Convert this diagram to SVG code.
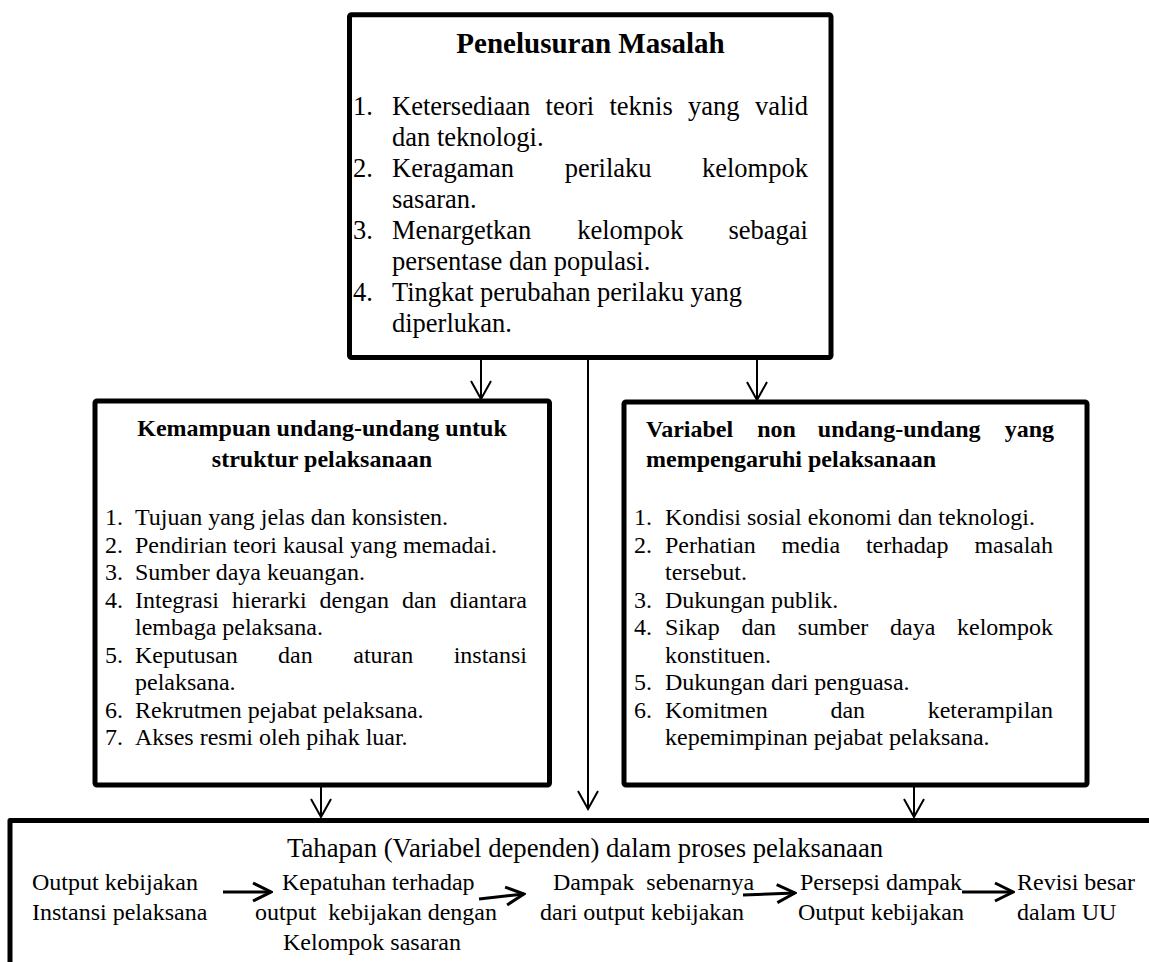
<svg xmlns="http://www.w3.org/2000/svg" width="1149" height="962" viewBox="0 0 1149 962">
<defs>
<style>
.box{fill:#fff;stroke:#000;stroke-width:5;stroke-linejoin:round}
text{font-family:"Liberation Serif","Times New Roman",serif;fill:#000}
.t1{font-size:26.5px}
.h1{font-size:29px;font-weight:bold}
.t2{font-size:24px}
.h2{font-size:24px;font-weight:bold}
.hb{font-size:26.7px}
.conn{stroke:#000;stroke-width:2;fill:none}
.conn2{stroke:#000;stroke-width:3;fill:none}
</style>
<marker id="ah" markerUnits="userSpaceOnUse" viewBox="-22 -13 24 26" refX="0" refY="0" markerWidth="24" markerHeight="26" orient="auto">
<path d="M-18,-10 L0,0 L-18,10" fill="none" stroke="#000" stroke-width="2"/>
</marker>
<marker id="ah2" markerUnits="userSpaceOnUse" viewBox="-22 -13 24 26" refX="0" refY="0" markerWidth="24" markerHeight="26" orient="auto">
<path d="M-18,-9 L0,0 L-18,9" fill="none" stroke="#000" stroke-width="3"/>
</marker>
</defs>
<rect width="1149" height="962" fill="#fff"/>

<g id="penelusuran">
<rect class="box" x="349.5" y="14.7" width="481.5" height="342.8" rx="2"/>
<text class="h1" x="590.5" y="53" text-anchor="middle">Penelusuran Masalah</text>
<text class="t1" y="115"><tspan x="353">1.</tspan> <tspan x="392">Ketersediaan</tspan> <tspan x="545.6">teori</tspan> <tspan x="609.5">teknis</tspan> <tspan x="688.1">yang</tspan> <tspan x="755">valid</tspan></text>
<text class="t1" x="392" y="146">dan teknologi.</text>
<text class="t1" y="177"><tspan x="353">2.</tspan> <tspan x="392">Keragaman</tspan> <tspan x="564.7">perilaku</tspan> <tspan x="702">kelompok</tspan></text>
<text class="t1" x="392" y="208">sasaran.</text>
<text class="t1" y="239"><tspan x="353">3.</tspan> <tspan x="392">Menargetkan</tspan> <tspan x="577.2">kelompok</tspan> <tspan x="728.5">sebagai</tspan></text>
<text class="t1" x="392" y="270">persentase dan populasi.</text>
<text class="t1" y="301"><tspan x="353">4.</tspan> <tspan x="392">Tingkat perubahan perilaku yang</tspan></text>
<text class="t1" x="392" y="332">diperlukan.</text>
</g>

<g id="kemampuan">
<rect class="box" x="95" y="401" width="454.5" height="384" rx="2"/>
<text class="h2" x="322" y="436" text-anchor="middle">Kemampuan undang-undang untuk</text>
<text class="h2" x="322" y="467" text-anchor="middle">struktur pelaksanaan</text>
<text class="t2" y="525"><tspan x="105">1.</tspan> <tspan x="135">Tujuan yang jelas dan konsisten.</tspan></text>
<text class="t2" y="552.5"><tspan x="105">2.</tspan> <tspan x="135">Pendirian teori kausal yang memadai.</tspan></text>
<text class="t2" y="580"><tspan x="105">3.</tspan> <tspan x="135">Sumber daya keuangan.</tspan></text>
<text class="t2" y="607.5"><tspan x="105">4.</tspan> <tspan x="135">Integrasi</tspan> <tspan x="232">hierarki</tspan> <tspan x="319.6">dengan</tspan> <tspan x="401.9">dan</tspan> <tspan x="449.7">diantara</tspan></text>
<text class="t2" x="135" y="635">lembaga pelaksana.</text>
<text class="t2" y="662.5"><tspan x="105">5.</tspan> <tspan x="135">Keputusan</tspan> <tspan x="278.1">dan</tspan> <tspan x="353.3">aturan</tspan> <tspan x="453.7">instansi</tspan></text>
<text class="t2" x="135" y="690">pelaksana.</text>
<text class="t2" y="717.5"><tspan x="105">6.</tspan> <tspan x="135">Rekrutmen pejabat pelaksana.</tspan></text>
<text class="t2" y="745"><tspan x="105">7.</tspan> <tspan x="135">Akses resmi oleh pihak luar.</tspan></text>
</g>

<g id="variabel-non">
<rect class="box" x="624" y="402" width="463" height="383" rx="2"/>
<text class="h2" y="437"><tspan x="646">Variabel</tspan> <tspan x="757.2">non</tspan> <tspan x="817.8">undang-undang</tspan> <tspan x="1004.7">yang</tspan></text>
<text class="h2" x="646" y="467">mempengaruhi pelaksanaan</text>
<text class="t2" y="525"><tspan x="634">1.</tspan> <tspan x="665">Kondisi sosial ekonomi dan teknologi.</tspan></text>
<text class="t2" y="552.5"><tspan x="634">2.</tspan> <tspan x="665">Perhatian</tspan> <tspan x="781.4">media</tspan> <tspan x="865.9">terhadap</tspan> <tspan x="974.4">masalah</tspan></text>
<text class="t2" x="665" y="580">tersebut.</text>
<text class="t2" y="607.5"><tspan x="634">3.</tspan> <tspan x="665">Dukungan publik.</tspan></text>
<text class="t2" y="635"><tspan x="634">4.</tspan> <tspan x="665">Sikap</tspan> <tspan x="741.4">dan</tspan> <tspan x="797.7">sumber</tspan> <tspan x="890">daya</tspan> <tspan x="957">kelompok</tspan></text>
<text class="t2" x="665" y="662.5">konstituen.</text>
<text class="t2" y="690"><tspan x="634">5.</tspan> <tspan x="665">Dukungan dari penguasa.</tspan></text>
<text class="t2" y="717.5"><tspan x="634">6.</tspan> <tspan x="665">Komitmen</tspan> <tspan x="830.4">dan</tspan> <tspan x="927.7">keterampilan</tspan></text>
<text class="t2" x="665" y="745">kepemimpinan pejabat pelaksana.</text>
</g>

<g id="tahapan">
<rect class="box" x="10" y="820.5" width="1200" height="200"/>
<text class="hb" x="287" y="857">Tahapan (Variabel dependen) dalam proses pelaksanaan</text>
<text class="t2" x="32" y="890">Output kebijakan</text>
<text class="t2" x="32" y="920">Instansi pelaksana</text>
<text class="t2" x="282" y="890">Kepatuhan terhadap</text>
<text class="t2" x="255" y="920" xml:space="preserve">output  kebijakan dengan</text>
<text class="t2" x="283" y="950">Kelompok sasaran</text>
<text class="t2" x="553" y="890" xml:space="preserve">Dampak  sebenarnya</text>
<text class="t2" x="540" y="920">dari output kebijakan</text>
<text class="t2" x="800" y="890">Persepsi dampak</text>
<text class="t2" x="798" y="920">Output kebijakan</text>
<text class="t2" x="1017" y="890">Revisi besar</text>
<text class="t2" x="1017" y="920">dalam UU</text>
</g>

<g id="connectors">
<line class="conn" x1="481" y1="357" x2="481" y2="399" marker-end="url(#ah)"/>
<line class="conn" x1="757" y1="357" x2="757" y2="400" marker-end="url(#ah)"/>
<line class="conn" x1="588" y1="355" x2="588" y2="809" stroke-width="2.5" marker-end="url(#ah)"/>
<line class="conn" x1="321" y1="787" x2="321" y2="817" marker-end="url(#ah)"/>
<line class="conn" x1="914" y1="787" x2="914" y2="817" marker-end="url(#ah)"/>
<path class="conn2" d="M223,892 L271,892" marker-end="url(#ah2)"/>
<path class="conn2" d="M479,899 L524,894" marker-end="url(#ah2)"/>
<path class="conn2" d="M743,895 L795,893" marker-end="url(#ah2)"/>
<path class="conn2" d="M962,892 L1013,892" marker-end="url(#ah2)"/>
</g>
</svg>
